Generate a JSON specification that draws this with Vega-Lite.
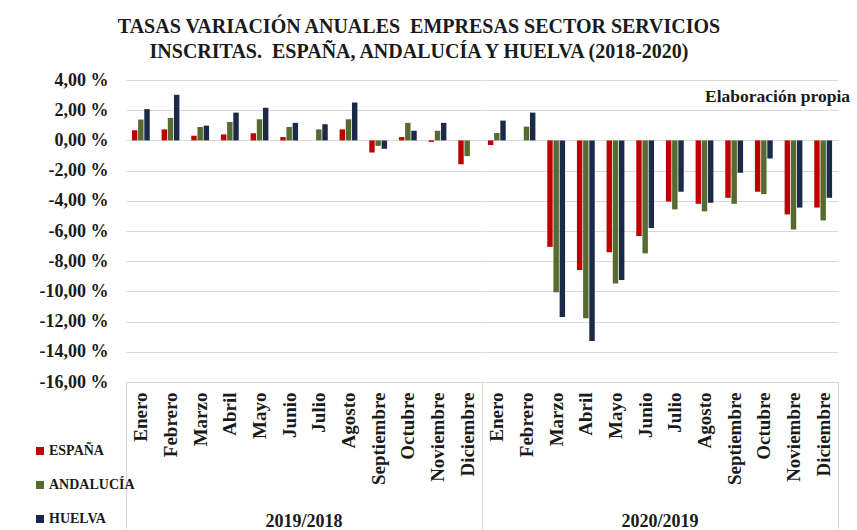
{
  "$schema": "https://vega.github.io/schema/vega-lite/v6.json",
  "background": "white",
  "padding": {"left": 0, "top": 17, "right": 0, "bottom": 0},
  "bounds": "flush",
  "title": {
    "text": ["TASAS VARIACIÓN ANUALES\u00a0 EMPRESAS SECTOR SERVICIOS", "INSCRITAS.\u00a0 ESPAÑA, ANDALUCÍA Y HUELVA (2018-2020)"],
    "font": "Liberation Serif", "fontSize": 20, "fontWeight": "bold", "color": "#1a1a1a",
    "anchor": "middle", "lineHeight": 25, "offset": 9, "dx": -6
  },
  "data": {"values": [
    {"period": "2019/2018", "month": "Enero", "serie": "ESPAÑA", "value": 0.67},
    {"period": "2019/2018", "month": "Enero", "serie": "ANDALUCÍA", "value": 1.38},
    {"period": "2019/2018", "month": "Enero", "serie": "HUELVA", "value": 2.07},
    {"period": "2019/2018", "month": "Febrero", "serie": "ESPAÑA", "value": 0.73},
    {"period": "2019/2018", "month": "Febrero", "serie": "ANDALUCÍA", "value": 1.49},
    {"period": "2019/2018", "month": "Febrero", "serie": "HUELVA", "value": 3.02},
    {"period": "2019/2018", "month": "Marzo", "serie": "ESPAÑA", "value": 0.31},
    {"period": "2019/2018", "month": "Marzo", "serie": "ANDALUCÍA", "value": 0.89},
    {"period": "2019/2018", "month": "Marzo", "serie": "HUELVA", "value": 0.98},
    {"period": "2019/2018", "month": "Abril", "serie": "ESPAÑA", "value": 0.40},
    {"period": "2019/2018", "month": "Abril", "serie": "ANDALUCÍA", "value": 1.22},
    {"period": "2019/2018", "month": "Abril", "serie": "HUELVA", "value": 1.84},
    {"period": "2019/2018", "month": "Mayo", "serie": "ESPAÑA", "value": 0.47},
    {"period": "2019/2018", "month": "Mayo", "serie": "ANDALUCÍA", "value": 1.40},
    {"period": "2019/2018", "month": "Mayo", "serie": "HUELVA", "value": 2.16},
    {"period": "2019/2018", "month": "Junio", "serie": "ESPAÑA", "value": 0.22},
    {"period": "2019/2018", "month": "Junio", "serie": "ANDALUCÍA", "value": 0.89},
    {"period": "2019/2018", "month": "Junio", "serie": "HUELVA", "value": 1.16},
    {"period": "2019/2018", "month": "Julio", "serie": "ESPAÑA", "value": 0.0},
    {"period": "2019/2018", "month": "Julio", "serie": "ANDALUCÍA", "value": 0.73},
    {"period": "2019/2018", "month": "Julio", "serie": "HUELVA", "value": 1.07},
    {"period": "2019/2018", "month": "Agosto", "serie": "ESPAÑA", "value": 0.73},
    {"period": "2019/2018", "month": "Agosto", "serie": "ANDALUCÍA", "value": 1.40},
    {"period": "2019/2018", "month": "Agosto", "serie": "HUELVA", "value": 2.51},
    {"period": "2019/2018", "month": "Septiembre", "serie": "ESPAÑA", "value": -0.80},
    {"period": "2019/2018", "month": "Septiembre", "serie": "ANDALUCÍA", "value": -0.36},
    {"period": "2019/2018", "month": "Septiembre", "serie": "HUELVA", "value": -0.56},
    {"period": "2019/2018", "month": "Octubre", "serie": "ESPAÑA", "value": 0.22},
    {"period": "2019/2018", "month": "Octubre", "serie": "ANDALUCÍA", "value": 1.16},
    {"period": "2019/2018", "month": "Octubre", "serie": "HUELVA", "value": 0.64},
    {"period": "2019/2018", "month": "Noviembre", "serie": "ESPAÑA", "value": -0.10},
    {"period": "2019/2018", "month": "Noviembre", "serie": "ANDALUCÍA", "value": 0.64},
    {"period": "2019/2018", "month": "Noviembre", "serie": "HUELVA", "value": 1.16},
    {"period": "2019/2018", "month": "Diciembre", "serie": "ESPAÑA", "value": -1.58},
    {"period": "2019/2018", "month": "Diciembre", "serie": "ANDALUCÍA", "value": -1.04},
    {"period": "2019/2018", "month": "Diciembre", "serie": "HUELVA", "value": 0.0},
    {"period": "2020/2019", "month": "Enero", "serie": "ESPAÑA", "value": -0.31},
    {"period": "2020/2019", "month": "Enero", "serie": "ANDALUCÍA", "value": 0.49},
    {"period": "2020/2019", "month": "Enero", "serie": "HUELVA", "value": 1.31},
    {"period": "2020/2019", "month": "Febrero", "serie": "ESPAÑA", "value": 0.0},
    {"period": "2020/2019", "month": "Febrero", "serie": "ANDALUCÍA", "value": 0.91},
    {"period": "2020/2019", "month": "Febrero", "serie": "HUELVA", "value": 1.84},
    {"period": "2020/2019", "month": "Marzo", "serie": "ESPAÑA", "value": -7.05},
    {"period": "2020/2019", "month": "Marzo", "serie": "ANDALUCÍA", "value": -10.05},
    {"period": "2020/2019", "month": "Marzo", "serie": "HUELVA", "value": -11.7},
    {"period": "2020/2019", "month": "Abril", "serie": "ESPAÑA", "value": -8.58},
    {"period": "2020/2019", "month": "Abril", "serie": "ANDALUCÍA", "value": -11.78},
    {"period": "2020/2019", "month": "Abril", "serie": "HUELVA", "value": -13.29},
    {"period": "2020/2019", "month": "Mayo", "serie": "ESPAÑA", "value": -7.41},
    {"period": "2020/2019", "month": "Mayo", "serie": "ANDALUCÍA", "value": -9.48},
    {"period": "2020/2019", "month": "Mayo", "serie": "HUELVA", "value": -9.24},
    {"period": "2020/2019", "month": "Junio", "serie": "ESPAÑA", "value": -6.33},
    {"period": "2020/2019", "month": "Junio", "serie": "ANDALUCÍA", "value": -7.48},
    {"period": "2020/2019", "month": "Junio", "serie": "HUELVA", "value": -5.8},
    {"period": "2020/2019", "month": "Julio", "serie": "ESPAÑA", "value": -4.05},
    {"period": "2020/2019", "month": "Julio", "serie": "ANDALUCÍA", "value": -4.57},
    {"period": "2020/2019", "month": "Julio", "serie": "HUELVA", "value": -3.4},
    {"period": "2020/2019", "month": "Agosto", "serie": "ESPAÑA", "value": -4.2},
    {"period": "2020/2019", "month": "Agosto", "serie": "ANDALUCÍA", "value": -4.7},
    {"period": "2020/2019", "month": "Agosto", "serie": "HUELVA", "value": -4.13},
    {"period": "2020/2019", "month": "Septiembre", "serie": "ESPAÑA", "value": -3.8},
    {"period": "2020/2019", "month": "Septiembre", "serie": "ANDALUCÍA", "value": -4.2},
    {"period": "2020/2019", "month": "Septiembre", "serie": "HUELVA", "value": -2.15},
    {"period": "2020/2019", "month": "Octubre", "serie": "ESPAÑA", "value": -3.4},
    {"period": "2020/2019", "month": "Octubre", "serie": "ANDALUCÍA", "value": -3.56},
    {"period": "2020/2019", "month": "Octubre", "serie": "HUELVA", "value": -1.2},
    {"period": "2020/2019", "month": "Noviembre", "serie": "ESPAÑA", "value": -4.9},
    {"period": "2020/2019", "month": "Noviembre", "serie": "ANDALUCÍA", "value": -5.9},
    {"period": "2020/2019", "month": "Noviembre", "serie": "HUELVA", "value": -4.45},
    {"period": "2020/2019", "month": "Diciembre", "serie": "ESPAÑA", "value": -4.45},
    {"period": "2020/2019", "month": "Diciembre", "serie": "ANDALUCÍA", "value": -5.3},
    {"period": "2020/2019", "month": "Diciembre", "serie": "HUELVA", "value": -3.8},
    {"period": "2020/2019", "month": "Diciembre", "note": "Elaboración propia", "value": 2.9}
  ]},
  "facet": {
    "column": {
      "field": "period", "type": "nominal", "title": null,
      "header": {"labelOrient": "bottom", "labelFont": "Liberation Serif", "labelFontSize": 18, "labelFontWeight": "bold", "labelColor": "#1a1a1a", "labelPadding": -17}
    }
  },
  "spacing": 0,
  "spec": {
    "width": 356,
    "height": 302,
    "encoding": {
      "x": {
        "field": "month", "type": "nominal",
        "sort": ["Enero", "Febrero", "Marzo", "Abril", "Mayo", "Junio", "Julio", "Agosto", "Septiembre", "Octubre", "Noviembre", "Diciembre"],
        "scale": {"paddingInner": 0.4, "paddingOuter": 0.2},
        "axis": {
          "title": null, "labelAngle": -90, "labelFont": "Liberation Serif", "labelFontSize": 19, "labelFontWeight": "bold", "labelColor": "#1a1a1a",
          "domainColor": "#D9D9D9", "bandPosition": 0.5, "tickSize": 147, "tickColor": "#D9D9D9",
          "tickOpacity": {"expr": "(datum.value == 'Enero' || datum.value == 'Diciembre') ? 1 : 0"},
          "tickOffset": {"expr": "datum.value == 'Enero' ? -14.83 : 14.83"},
          "labelOffset": {"expr": "datum.value == 'Enero' ? 14.83 : -14.83"},
          "labelPadding": -137, "grid": false, "labelOverlap": false
        }
      },
      "y": {
        "field": "value", "type": "quantitative",
        "scale": {"domain": [-16, 4], "nice": false},
        "axis": {
          "title": null, "values": [-16, -14, -12, -10, -8, -6, -4, -2, 0, 2, 4], "tickCount": 30,
          "labelExpr": "(datum.value < 0 ? '-' : '') + replace(format(abs(datum.value), '.2f'), '.', ',') + ' %'",
          "labelFont": "Liberation Serif", "labelFontSize": 18, "labelFontWeight": "bold", "labelColor": "#1a1a1a",
          "domain": false, "ticks": false, "labelPadding": 18, "minExtent": 126, "maxExtent": 126, "labelOverlap": false,
          "grid": true, "gridColor": "#D9D9D9"
        }
      }
    },
    "layer": [
      {
        "transform": [{"filter": "isValid(datum.serie)"}],
        "mark": {"type": "bar"},
        "encoding": {
          "xOffset": {"field": "serie", "type": "nominal", "sort": ["ESPAÑA", "ANDALUCÍA", "HUELVA"], "scale": {"paddingInner": 0.12}},
          "color": {
            "field": "serie", "type": "nominal",
            "scale": {"domain": ["ESPAÑA", "ANDALUCÍA", "HUELVA"], "range": ["#C00000", "#556B2F", "#1B2A47"]},
            "legend": {
              "title": null, "orient": "none", "legendX": -93, "legendY": 364, "direction": "vertical",
              "symbolType": "square", "symbolSize": 64, "symbolStrokeWidth": 0, "rowPadding": 20,
              "labelFont": "Liberation Serif", "labelFontSize": 14, "labelFontWeight": "bold", "labelColor": "#1a1a1a", "labelOffset": 2
            }
          }
        }
      },
      {
        "transform": [{"filter": "isValid(datum.note)"}],
        "mark": {"type": "text", "align": "right", "baseline": "middle", "font": "Liberation Serif", "fontSize": 17.5, "fontWeight": "bold", "color": "#1a1a1a", "dx": 18},
        "encoding": {
          "x": {"field": "month", "type": "nominal", "bandPosition": 1, "sort": ["Enero", "Febrero", "Marzo", "Abril", "Mayo", "Junio", "Julio", "Agosto", "Septiembre", "Octubre", "Noviembre", "Diciembre"]},
          "text": {"field": "note"}
        }
      }
    ]
  },
  "config": {"view": {"stroke": null}}
}
